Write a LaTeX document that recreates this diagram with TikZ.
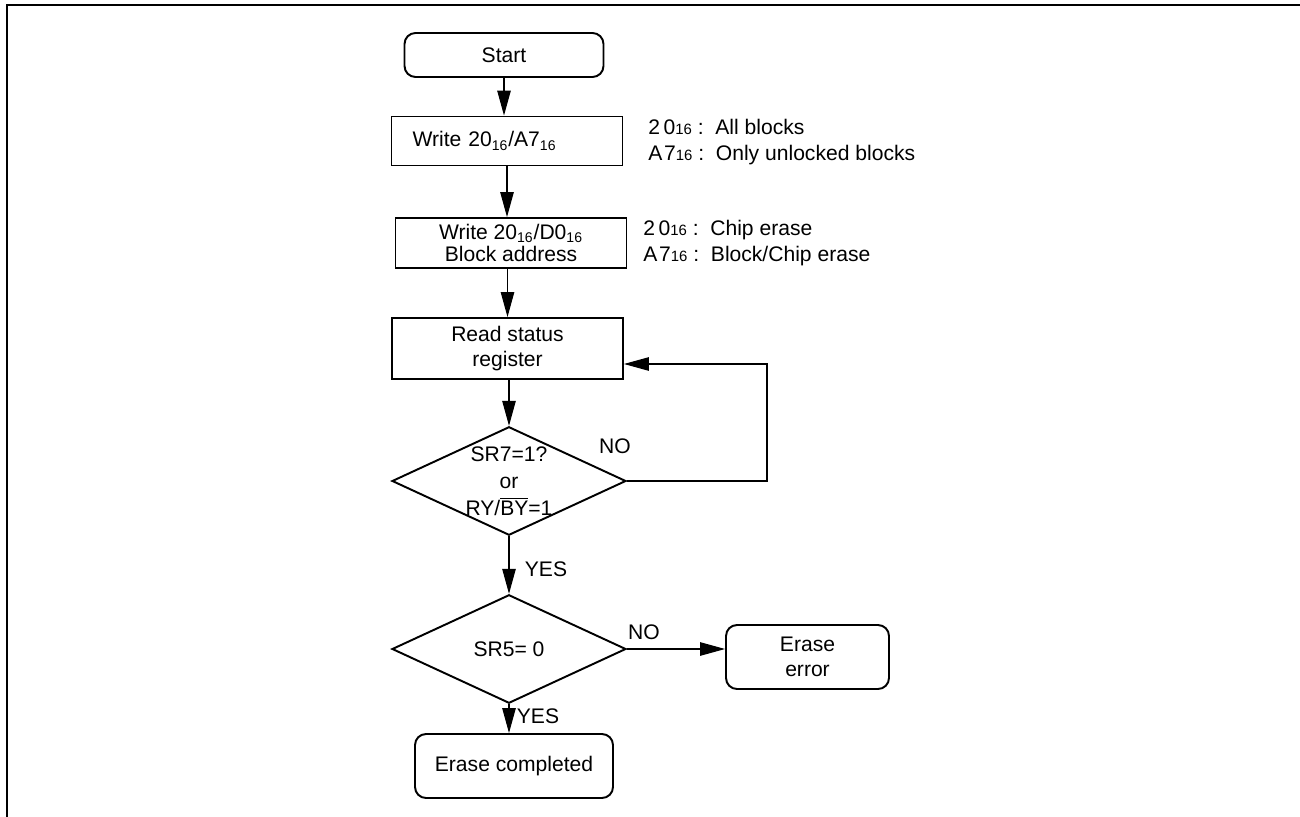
\documentclass[tikz,border=0pt]{standalone}
\usepackage{fontspec}
\setmainfont{Liberation Sans}
\usetikzlibrary{shapes.geometric,arrows.meta}
\newcommand{\hexs}[1]{{\fontsize{8.5}{9}\selectfont #1}}

\begin{document}
\begin{tikzpicture}[x=0.02cm,y=-0.02cm,
    font=\fontsize{12}{14.5}\selectfont,
    term/.style={draw,line width=1.1pt,rounded corners=0.22cm,minimum width=#1,minimum height=0.88cm,inner sep=0pt,align=center},
    proc/.style={draw,line width=1.1pt,minimum width=4.62cm,inner sep=0pt,align=center},
    dec/.style={draw,diamond,line width=1.1pt,inner sep=0pt,minimum width=4.68cm,minimum height=2.17cm},
    arr/.style={-{Triangle[length=0.5cm,width=0.27cm]},line width=0.6pt}]
    \useasboundingbox (0,0) rectangle (1300,817);
    \draw[line width=1.4pt] (7,830) -- (7,5) -- (1310,5);
    \node[term=3.98cm] (start) at (504,55) {Start};
    \node[proc,minimum height=0.98cm,text width=3.78cm,inner xsep=0.42cm,align=left] (wr1) at (507,141) {Write 20\textsubscript{16}/A7\textsubscript{16}};
    \node[proc,minimum height=1cm,font=\fontsize{12}{12.5}\selectfont] (wr2) at (511,243) {Write 20\textsubscript{16}/D0\textsubscript{16}\\Block address};
    \node[proc,minimum height=1.22cm] (rd) at (507.5,348.5) {Read status\\register};
    \node[dec,label={[align=center,font=\fontsize{12}{15.5}\selectfont]center:SR7=1?\\or\\RY/$\overline{\mbox{BY}}$=1}] (chk) at (509,481) {};
    \node[dec] (sr5) at (509,649) {SR5= 0};
    \node[term=3.26cm,minimum height=1.28cm,font=\fontsize{12}{14}\selectfont] (err) at (807.5,657) {Erase\\error};
    \node[term=3.96cm,minimum height=1.28cm] (done) at (514,766) {Erase completed};
    \node[anchor=west,align=left,inner sep=0pt,font=\fontsize{12}{14.8}\selectfont] (note1) at (648,142) {2\kern2pt0\hexs{16} :\ \ All blocks\\A\kern1pt7\hexs{16} :\ \ Only unlocked blocks};
    \node[anchor=west,align=left,inner sep=0pt,font=\fontsize{12}{14.8}\selectfont] (note2) at (643,243) {2\kern2pt0\hexs{16} :\ \ Chip erase\\A\kern1pt7\hexs{16} :\ \ Block/Chip erase};
    \node (no1) at (615,446) {NO};
    \node (yes1) at (546,569) {YES};
    \node (no2) at (644,632) {NO};
    \node (yes2) at (538,716) {YES};
    \coordinate (back) at (767,364);
    \draw[arr] (start) -- (start |- wr1.north);
    \draw[arr] (wr1) -- (wr1 |- wr2.north);
    \draw[arr] (rd |- wr2.south) -- (rd);
    \draw[arr] (chk |- rd.south) -- (chk);
    \draw[arr] (chk) -- (sr5);
    \draw[arr] (chk.east) -| (back) -- (back -| rd.east);
    \draw[arr] (sr5.east) -- (sr5.east -| err.west);
    \draw[arr] (sr5) -- (sr5 |- done.north);
\end{tikzpicture}
\end{document}
